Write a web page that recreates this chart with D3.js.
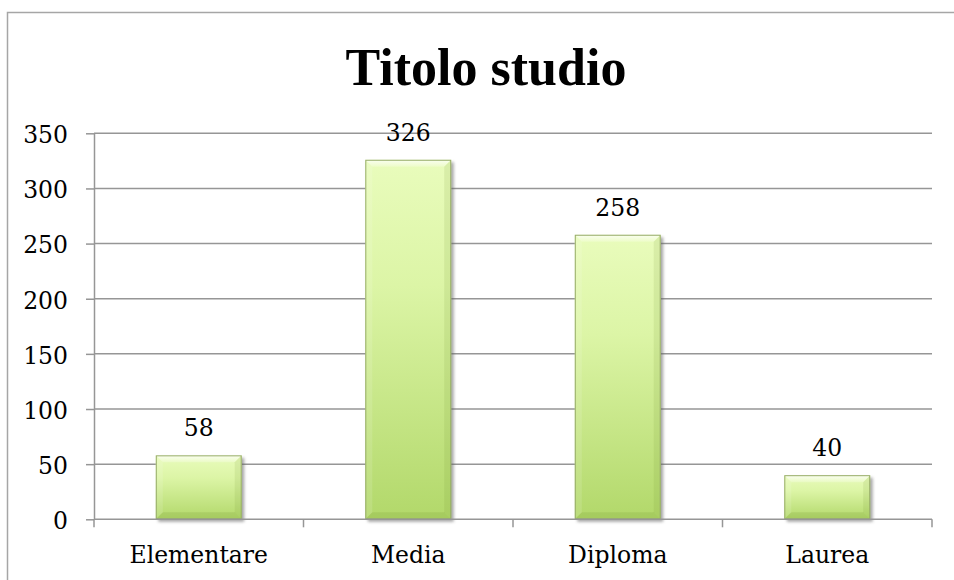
<!DOCTYPE html>
<html>
<head>
<meta charset="utf-8">
<script src="https://cdn.jsdelivr.net/npm/d3@7"></script>
<style>
  html, body { margin: 0; padding: 0; background: #fff; }
  svg { display: block; }
  text { font-family: "DejaVu Serif", "Liberation Serif", serif; fill: #000; }
  text.title { font-family: "Liberation Serif", "DejaVu Serif", serif; }
</style>
</head>
<body>
<svg id="chart" width="954" height="580"></svg>
<script>
// Titolo di studio: numero di persone per livello
const categories = ["Elementare", "Media", "Diploma", "Laurea"];
const values = [58, 326, 258, 40];
const yTicks = [0, 50, 100, 150, 200, 250, 300, 350];
const chartTitle = "Titolo studio";

const labelSize = "23.5px";
const svg = d3.select("#chart");
const plot = { left: 94, right: 932, top: 133.3, bottom: 519.3 };

// Outer frame of the chart area (runs off the right and bottom edges)
svg.append("rect")
  .attr("x", 7.5).attr("y", 12.5)
  .attr("width", 980).attr("height", 620)
  .attr("fill", "#fff")
  .attr("stroke", "#a6a6a6").attr("stroke-width", 1.5);

const x = d3.scaleBand()
  .domain(categories)
  .range([plot.left, plot.right])
  .paddingInner(0.59)
  .paddingOuter(0.295);

const y = d3.scaleLinear()
  .domain([0, 350])
  .range([plot.bottom, plot.top]);

// Title
svg.append("text")
  .attr("class", "title")
  .attr("x", 486).attr("y", 85)
  .attr("text-anchor", "middle")
  .style("font-size", "52px")
  .style("font-weight", "bold")
  .text(chartTitle);

// Horizontal gridlines
svg.append("g")
  .selectAll("line")
  .data(yTicks.filter(d => d > 0))
  .join("line")
  .attr("x1", plot.left).attr("x2", plot.right)
  .attr("y1", d => y(d)).attr("y2", d => y(d))
  .attr("stroke", "#969696").attr("stroke-width", 1.5);

// Gradients and effects for the bevelled bars
const defs = svg.append("defs");
const grad = defs.append("linearGradient")
  .attr("id", "barFill").attr("x1", 0).attr("y1", 0).attr("x2", 0).attr("y2", 1);
grad.append("stop").attr("offset", "0%").attr("stop-color", "#e9fcbc");
grad.append("stop").attr("offset", "35%").attr("stop-color", "#dcf5a6");
grad.append("stop").attr("offset", "100%").attr("stop-color", "#b2d86a");

const hl = defs.append("linearGradient")
  .attr("id", "topHighlight").attr("x1", 0).attr("y1", 0).attr("x2", 0).attr("y2", 1);
hl.append("stop").attr("offset", "0%").attr("stop-color", "#ffffff").attr("stop-opacity", 0.8);
hl.append("stop").attr("offset", "100%").attr("stop-color", "#ffffff").attr("stop-opacity", 0.2);

const shadow = defs.append("filter").attr("id", "barShadow")
  .attr("x", "-20%").attr("y", "-20%").attr("width", "140%").attr("height", "140%");
shadow.append("feGaussianBlur").attr("stdDeviation", 1.6);

const bw = x.bandwidth();
const bevel = 7;

const bars = svg.append("g")
  .selectAll("g")
  .data(categories.map((c, i) => ({ c, v: values[i] })))
  .join("g");

// soft drop shadow on the right and bottom
bars.append("rect")
  .attr("x", d => x(d.c) + 2.5)
  .attr("y", d => y(d.v) + 2.5)
  .attr("width", bw)
  .attr("height", d => y(0) - y(d.v))
  .attr("fill", "#5f5f5f")
  .attr("opacity", 0.55)
  .attr("filter", "url(#barShadow)");

bars.append("rect")
  .attr("x", d => x(d.c))
  .attr("y", d => y(d.v))
  .attr("width", bw)
  .attr("height", d => y(0) - y(d.v))
  .attr("fill", "url(#barFill)");

// top bevel
bars.append("path")
  .attr("d", d => {
    const x0 = x(d.c), x1 = x0 + bw, t = y(d.v);
    return `M${x0},${t}L${x1},${t}L${x1 - bevel},${t + bevel}L${x0 + bevel},${t + bevel}Z`;
  })
  .attr("fill", "url(#topHighlight)");

// left bevel
bars.append("path")
  .attr("d", d => {
    const x0 = x(d.c), t = y(d.v), b = y(0);
    return `M${x0},${t}L${x0 + bevel},${t + bevel}L${x0 + bevel},${b - bevel}L${x0},${b}Z`;
  })
  .attr("fill", "#ffffff").attr("opacity", 0.12);

// right bevel
bars.append("path")
  .attr("d", d => {
    const x1 = x(d.c) + bw, t = y(d.v), b = y(0);
    return `M${x1},${t}L${x1 - bevel},${t + bevel}L${x1 - bevel},${b - bevel}L${x1},${b}Z`;
  })
  .attr("fill", "#6f8f2a").attr("opacity", 0.12);

// bottom bevel
bars.append("path")
  .attr("d", d => {
    const x0 = x(d.c), x1 = x0 + bw, b = y(0);
    return `M${x0},${b}L${x1},${b}L${x1 - bevel},${b - bevel}L${x0 + bevel},${b - bevel}Z`;
  })
  .attr("fill", "#6f8f2a").attr("opacity", 0.18);

// thin outline
bars.append("rect")
  .attr("x", d => x(d.c) + 0.5)
  .attr("y", d => y(d.v) + 0.5)
  .attr("width", bw - 1)
  .attr("height", d => y(0) - y(d.v) - 1)
  .attr("fill", "none")
  .attr("stroke", "#98ad6a").attr("stroke-width", 1);

// value labels
bars.append("text")
  .attr("x", d => x(d.c) + bw / 2)
  .attr("y", d => y(d.v) - 19)
  .attr("text-anchor", "middle")
  .style("font-size", labelSize)
  .text(d => d.v);

// Y axis
const yAxis = d3.axisLeft(y)
  .tickValues(yTicks)
  .tickSizeInner(8)
  .tickSizeOuter(0)
  .tickPadding(18);

const gy = svg.append("g")
  .attr("transform", `translate(${plot.left},0)`)
  .call(yAxis)
  .attr("font-family", null)
  .attr("font-size", null);
gy.select(".domain").attr("stroke", "#969696").attr("stroke-width", 1.5);
gy.selectAll(".tick line").attr("stroke", "#969696").attr("stroke-width", 1.5);
gy.selectAll(".tick text")
  .attr("dy", "0.4em")
  .style("font-size", labelSize)
  .attr("fill", "#000");

// X axis: baseline, ticks at band boundaries, labels centred on bands
const gx = svg.append("g");
gx.append("line")
  .attr("x1", plot.left).attr("x2", plot.right)
  .attr("y1", y(0)).attr("y2", y(0))
  .attr("stroke", "#969696").attr("stroke-width", 1.5);

const step = x.step();
const boundaries = d3.range(categories.length + 1).map(i => plot.left + i * step);
gx.selectAll("line.tick")
  .data(boundaries)
  .join("line")
  .attr("class", "tick")
  .attr("x1", d => d).attr("x2", d => d)
  .attr("y1", y(0)).attr("y2", y(0) + 8)
  .attr("stroke", "#969696").attr("stroke-width", 1.5);

gx.selectAll("text")
  .data(categories)
  .join("text")
  .attr("x", d => x(d) + bw / 2)
  .attr("y", 563)
  .attr("text-anchor", "middle")
  .style("font-size", labelSize)
  .text(d => d);
</script>
</body>
</html>
